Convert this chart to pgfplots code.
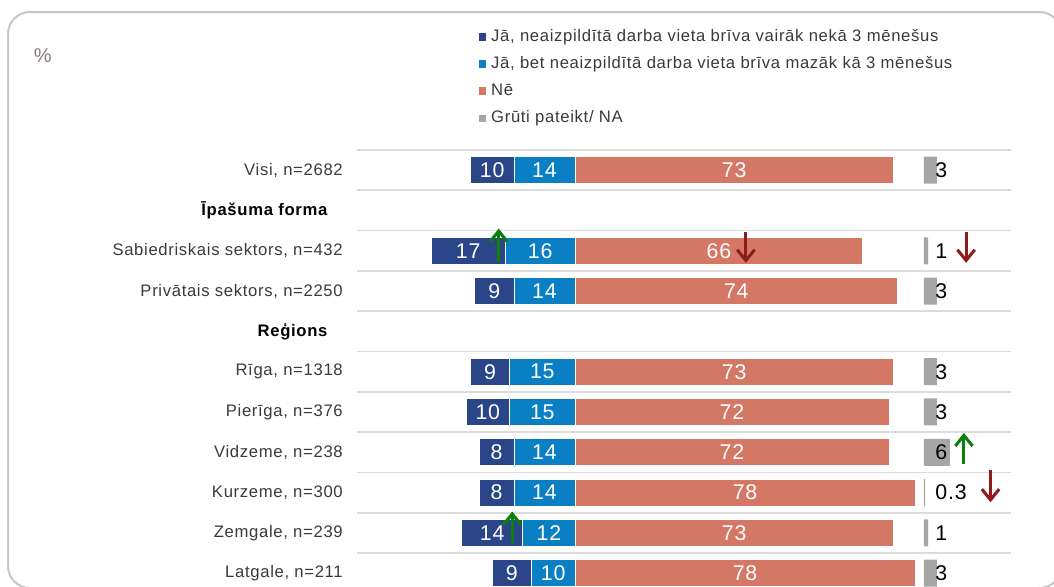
\documentclass[border=0pt]{standalone}
\usepackage{fontspec}
\setmainfont{Liberation Sans}[LetterSpace=4]
\usepackage{pgfplots}
\pgfplotsset{compat=1.18}
\usepackage{pgfplotstable}
\usetikzlibrary{arrows.meta}
\definecolor{dblue}{HTML}{2B4589}
\definecolor{lblue}{HTML}{0B7FC4}
\definecolor{salmon}{HTML}{D47865}
\definecolor{greyb}{HTML}{A6A6A6}
\definecolor{gridc}{HTML}{DCDCDC}
\definecolor{txt}{HTML}{3A3A3A}
\definecolor{pcol}{HTML}{857B78}
\definecolor{framec}{HTML}{C6C6C6}
\definecolor{arrgreen}{HTML}{0A7F0A}
\definecolor{arrred}{HTML}{8E1C1C}

\pgfplotstableread{
row db lb ne gr
0 10 14 73 3
2 17 16 66 1
3 9 14 74 3
5 9 15 73 3
6 10 15 72 3
7 8 14 72 6
8 8 14 78 0.3
9 14 12 73 1
10 9 10 78 3
}\data

\pgfplotsset{
  common/.style={
    scale only axis, width=490.5pt, height=332.5pt,
    at={(267.75pt,-112.5pt)}, anchor=north west,
    ymin=-0.5, ymax=10.5, y dir=reverse,
    axis line style={draw=none}, tick style={draw=none},
    xtick=\empty, clip=false,
  },
  barst/.style={xbar, bar width=20.25pt, bar shift=0pt, draw=white, line width=0.6pt, forget plot},
}
\tikzset{arr/.style={line width=2.3pt, -{Straight Barb[length=8pt,width=13pt]}},
  valfont/.style={font=\fontsize{16}{18}\selectfont}}

\begin{document}
\begin{tikzpicture}
\useasboundingbox (0,0) rectangle (790.5pt,-439.5pt);
\clip (0,0) rectangle (790.5pt,-439.5pt);
\draw[framec, line width=1.5pt, rounded corners=16.5pt] (6pt,-9pt) rectangle (796pt,-441pt);
\node[text=pcol, font=\fontsize{15}{17}\selectfont, inner sep=0pt] at (32pt,-42pt) {\%};

\begin{axis}[common,
  xmin=-50, xmax=100,
  ytick={0,...,10},
  minor ytick={-0.5,0.5,...,9.5},
  yminorgrids=true,
  minor grid style={gridc, line width=1.3pt},
  yticklabel style={inner sep=0pt, xshift=-10.5pt, text=txt, font=\fontsize{12.5}{14}\selectfont},
  yticklabels={{Visi, n=2682},{\textcolor{black}{\textbf{Īpašuma forma}}\hspace*{11pt}},{Sabiedriskais sektors, n=432},{Privātais sektors, n=2250},{\textcolor{black}{\textbf{Reģions}}\hspace*{11pt}},{Rīga, n=1318},{Pierīga, n=376},{Vidzeme, n=238},{Kurzeme, n=300},{Zemgale, n=239},{Latgale, n=211}},
  legend style={at={(axis description cs:0.186,1.278)}, anchor=north west, draw=none, fill=none, inner sep=0pt, outer sep=0pt,
    font=\fontsize{12.5}{14}\selectfont, text=txt, row sep=5.5pt,
    nodes={inner sep=1.5pt, text height=9.3pt, text depth=2.6pt}},
  legend cell align=left,
]
\addplot[barst, fill=dblue] table[x expr={-(\thisrow{db}+\thisrow{lb})}, y=row] {\data};
\addplot[barst, fill=lblue] table[x expr={-\thisrow{lb}}, y=row] {\data};
\addplot[barst, fill=salmon] table[x=ne, y=row] {\data};

\addplot[draw=none, mark=none, forget plot, nodes near coords, point meta=explicit symbolic,
  every node near coord/.append style={anchor=center, text=white, valfont}]
  table[x expr={-(\thisrow{lb}+0.5*\thisrow{db})}, y=row, meta=db] {\data};
\addplot[draw=none, mark=none, forget plot, nodes near coords, point meta=explicit symbolic,
  every node near coord/.append style={anchor=center, text=white, valfont}]
  table[x expr={-0.5*\thisrow{lb}}, y=row, meta=lb] {\data};
\addplot[draw=none, mark=none, forget plot, nodes near coords, point meta=explicit symbolic,
  every node near coord/.append style={anchor=center, text=white, valfont}]
  table[x expr={0.5*\thisrow{ne}}, y=row, meta=ne] {\data};

\addlegendimage{legend image code/.code={\fill[dblue] (0pt,-2.5pt) rectangle (5pt,2.5pt); \path (7.5pt,0pt);}}
\addlegendentry{Jā, neaizpildītā darba vieta brīva vairāk nekā 3 mēnešus}
\addlegendimage{legend image code/.code={\fill[lblue] (0pt,-2.5pt) rectangle (5pt,2.5pt); \path (7.5pt,0pt);}}
\addlegendentry{Jā, bet neaizpildītā darba vieta brīva mazāk kā 3 mēnešus}
\addlegendimage{legend image code/.code={\fill[salmon] (0pt,-2.5pt) rectangle (5pt,2.5pt); \path (7.5pt,0pt);}}
\addlegendentry{Nē}
\addlegendimage{legend image code/.code={\fill[greyb] (0pt,-2.5pt) rectangle (5pt,2.5pt); \path (7.5pt,0pt);}}
\addlegendentry{Grūti pateikt/ NA}

\draw[arrgreen, arr] (axis cs:-17.5,2.27) -- (axis cs:-17.5,1.45);
\draw[arrred, arr] (axis cs:39.2,1.53) -- (axis cs:39.2,2.3);
\draw[arrred, arr] (axis cs:89.7,1.53) -- (axis cs:89.7,2.3);
\draw[arrgreen, arr] (axis cs:89.2,7.3) -- (axis cs:89.2,6.52);
\draw[arrred, arr] (axis cs:95.3,7.45) -- (axis cs:95.3,8.24);
\draw[arrgreen, arr] (axis cs:-14.4,9.24) -- (axis cs:-14.4,8.47);
\end{axis}

\begin{axis}[common, xmin=-130, xmax=20, ytick=\empty]
\addplot[xbar, bar width=20.25pt, bar shift=0pt, fill=greyb, draw=none] table[x=gr, y=row] {\data};
\addplot[draw=none, mark=none, nodes near coords, point meta=explicit symbolic,
  every node near coord/.append style={anchor=west, inner sep=0pt, text=black, valfont}]
  table[x expr=2.6, y=row, meta=gr] {\data};
\end{axis}
\end{tikzpicture}
\end{document}
